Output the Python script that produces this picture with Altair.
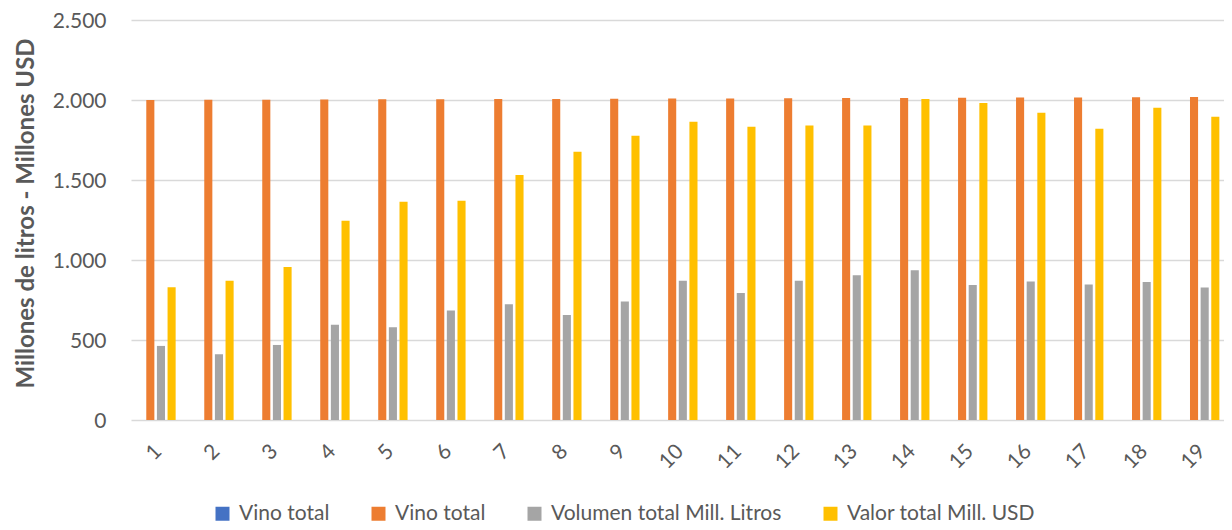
import altair as alt
import pandas as pd

categories = [str(i) for i in range(1, 20)]
series_keys = ["Vino total", "Vino total ", "Volumen total Mill. Litros", "Valor total Mill. USD"]
series_colors = ["#4472C4", "#ED7D31", "#A5A5A5", "#FFC000"]

vino_total_a = [0] * 19
vino_total_b = [2000, 2001, 2002, 2003, 2004, 2005, 2006, 2007, 2008, 2009,
                2010, 2011, 2012, 2013, 2014, 2015, 2016, 2017, 2018]
volumen = [463, 411, 469, 596, 580, 684, 724, 657, 740, 871,
           794, 871, 905, 936, 843, 865, 847, 863, 828]
valor = [830, 870, 957, 1245, 1364, 1370, 1531, 1677, 1777, 1864,
         1833, 1841, 1841, 2006, 1981, 1921, 1820, 1952, 1896]

rows = []
for vals, key in zip([vino_total_a, vino_total_b, volumen, valor], series_keys):
    for c, v in zip(categories, vals):
        rows.append({"cat": c, "series": key, "value": v})
df = pd.DataFrame(rows)

FONT = "Lato"
TXT = "#595959"

chart = alt.Chart(df).mark_bar().encode(
    x=alt.X("cat:N", sort=categories,
            scale=alt.Scale(paddingInner=0.31, paddingOuter=0.08),
            axis=alt.Axis(title=None, labelAngle=-45, labelAlign="right",
                          labelBaseline="middle", labelPadding=28, labelOffset=3,
                          ticks=False, domain=False, labelFontSize=21,
                          labelColor=TXT, labelFont=FONT)),
    xOffset=alt.XOffset("series:N", sort=series_keys,
                        scale=alt.Scale(paddingInner=0.24, domain=series_keys)),
    y=alt.Y("value:Q", scale=alt.Scale(domain=[0, 2500], nice=False),
            axis=alt.Axis(title="Millones de litros - Millones USD",
                          values=[0, 500, 1000, 1500, 2000, 2500],
                          labelExpr="replace(format(datum.value, ','), ',', '.')",
                          grid=True, gridColor="#d9d9d9", gridWidth=1.5,
                          domain=False, ticks=False, labelPadding=25, labelOffset=1,
                          labelFontSize=21, labelColor=TXT, labelFont=FONT,
                          titleFont=FONT, titleFontSize=24, titleFontWeight="bold",
                          titleColor=TXT, titleX=-93, titleY=193)),
    color=alt.Color("series:N", sort=series_keys,
                    scale=alt.Scale(domain=series_keys, range=series_colors),
                    legend=alt.Legend(title=None, orient="none", direction="horizontal",
                                      legendX=81, legendY=483, symbolType="square",
                                      symbolSize=196, symbolStrokeWidth=0,
                                      labelFontSize=21, labelColor=TXT, labelFont=FONT,
                                      labelLimit=0, columnPadding=38, labelOffset=6,
                                      columns=4)),
).properties(
    width=1093, height=400,
    autosize=alt.AutoSizeParams(type="none"),
    padding={"left": 123, "top": 12, "right": 0, "bottom": 105},
).configure_view(stroke=None)

chart.save("out.html", embed_options={"renderer": "svg", "actions": False})
